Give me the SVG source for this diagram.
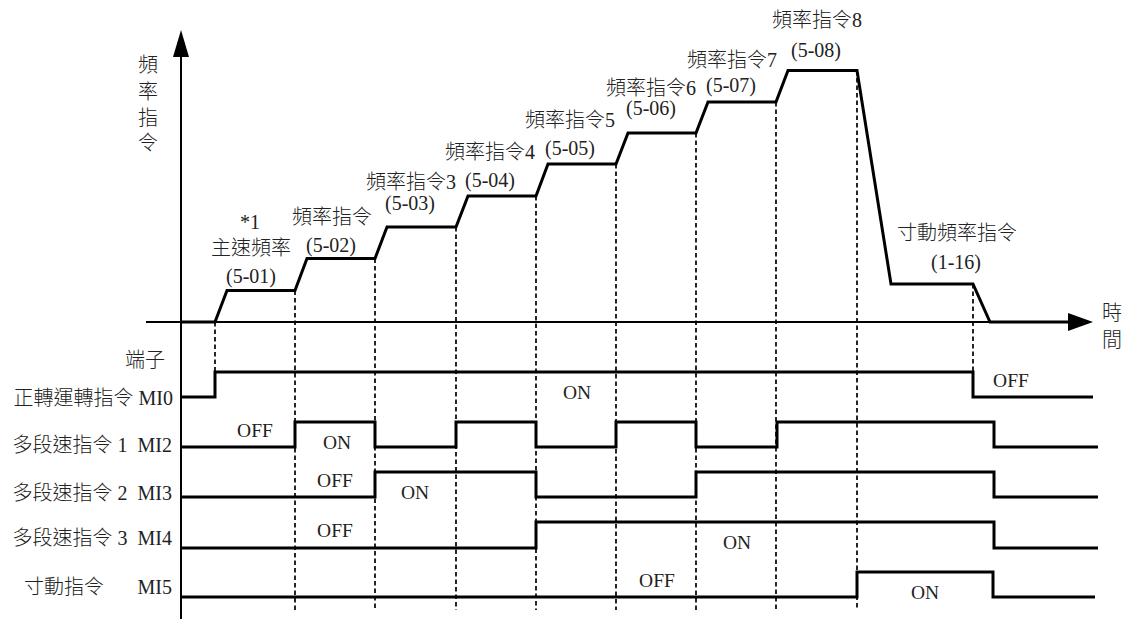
<svg xmlns="http://www.w3.org/2000/svg" width="1134" height="619" viewBox="0 0 1134 619">
<style>
.ax{stroke:#000;stroke-width:2;fill:none}
.thick{stroke:#000;stroke-width:3;fill:none;stroke-linejoin:miter}
.dash{stroke:#000;stroke-width:1.7;stroke-dasharray:4.5 3;fill:none}
.t{font-family:"Liberation Serif","Noto Sans CJK TC",serif;font-size:20px;font-weight:300;fill:#222}
.l{font-family:"Liberation Serif",serif;font-size:19.5px;fill:#222}
.m{text-anchor:middle}
.e{text-anchor:end}
</style>
<rect width="1134" height="619" fill="#fff"/>
<g id="axes">
<line class="ax" x1="181" y1="55" x2="181" y2="619"/>
<polygon points="181,30 173,57 189,57" fill="#000"/>
<line class="ax" x1="146" y1="322" x2="1070" y2="322"/>
<polygon points="1093,322 1068,313 1068,331" fill="#000"/>
</g>
<g id="connectors">
<g id="dashes">
<line class="dash" x1="215" y1="322" x2="215" y2="372"/>
<line class="dash" x1="295" y1="290.5" x2="295" y2="610"/>
<line class="dash" x1="375" y1="258.5" x2="375" y2="610"/>
<line class="dash" x1="456" y1="227" x2="456" y2="610"/>
<line class="dash" x1="536" y1="196" x2="536" y2="610"/>
<line class="dash" x1="616" y1="164" x2="616" y2="610"/>
<line class="dash" x1="696" y1="133" x2="696" y2="610"/>
<line class="dash" x1="776" y1="102" x2="776" y2="610"/>
<line class="dash" x1="857" y1="70.5" x2="857" y2="610"/>
<line class="dash" x1="973" y1="284" x2="973" y2="372"/>
</g>
<polyline id="freq" class="thick" points="181,322 215,322 227,290.5 295,290.5 307,258.5 375,258.5 387,227 456,227 468,196 536,196 548,164 616,164 628,133 696,133 708,102 776,102 788,70.5 857,70.5 891,284 973,284 990,322 1072,322"/>
<polyline id="mi0" class="thick" points="181,397 215,397 215,372 973,372 973,397 1093,397"/>
<polyline id="mi2" class="thick" points="181,447 295,447 295,422 375,422 375,447 456,447 456,422 536,422 536,447 616,447 616,422 696,422 696,447 777,447 777,422 994,422 994,447 1098,447"/>
<polyline id="mi3" class="thick" points="181,497 375,497 375,472 536,472 536,497 696,497 696,472 994,472 994,497 1098,497"/>
<polyline id="mi4" class="thick" points="181,548 536,548 536,522 994,522 994,548 1098,548"/>
<polyline id="mi5" class="thick" points="181,597 857,597 857,572 993,572 993,597 1095,597"/>
</g>
<g id="yaxis-label" class="t m">
<text x="148" y="72">頻</text>
<text x="148" y="99">率</text>
<text x="148" y="125">指</text>
<text x="148" y="150">令</text>
</g>
<g id="xaxis-label" class="t m">
<text x="1112" y="320">時</text>
<text x="1112" y="347">間</text>
</g>
<g id="freq-labels" class="t m">
<text x="250" y="229">*1</text>
<text x="251" y="255">主速頻率</text>
<text x="251" y="283">(5-01)</text>
<text x="332" y="224">頻率指令</text>
<text x="331" y="252">(5-02)</text>
<text x="411" y="189">頻率指令3</text>
<text x="410" y="210">(5-03)</text>
<text x="490" y="159">頻率指令4</text>
<text x="490" y="187">(5-04)</text>
<text x="570" y="127">頻率指令5</text>
<text x="570" y="155">(5-05)</text>
<text x="651" y="95">頻率指令6</text>
<text x="651" y="115">(5-06)</text>
<text x="732" y="67">頻率指令7</text>
<text x="731" y="92">(5-07)</text>
<text x="817" y="27">頻率指令8</text>
<text x="816" y="57">(5-08)</text>
<text x="957" y="240">寸動頻率指令</text>
<text x="956" y="269">(1-16)</text>
</g>
<g id="row-labels" class="t">
<text class="e" x="165" y="367">端子</text>
<text class="e" x="173" y="405">正轉運轉指令 MI0</text>
<text class="e" x="172" y="452" xml:space="preserve">多段速指令 1  MI2</text>
<text class="e" x="172" y="500" xml:space="preserve">多段速指令 2  MI3</text>
<text class="e" x="172" y="545" xml:space="preserve">多段速指令 3  MI4</text>
<text x="24" y="594">寸動指令</text>
<text class="e" x="172" y="594">MI5</text>
</g>
<g id="state-labels" class="l m">
<text x="577" y="399">ON</text>
<text x="1011" y="387">OFF</text>
<text x="255" y="437">OFF</text>
<text x="337" y="449">ON</text>
<text x="335" y="487">OFF</text>
<text x="415" y="499">ON</text>
<text x="335" y="537">OFF</text>
<text x="737" y="549">ON</text>
<text x="657" y="587">OFF</text>
<text x="925" y="599">ON</text>
</g>
</svg>
